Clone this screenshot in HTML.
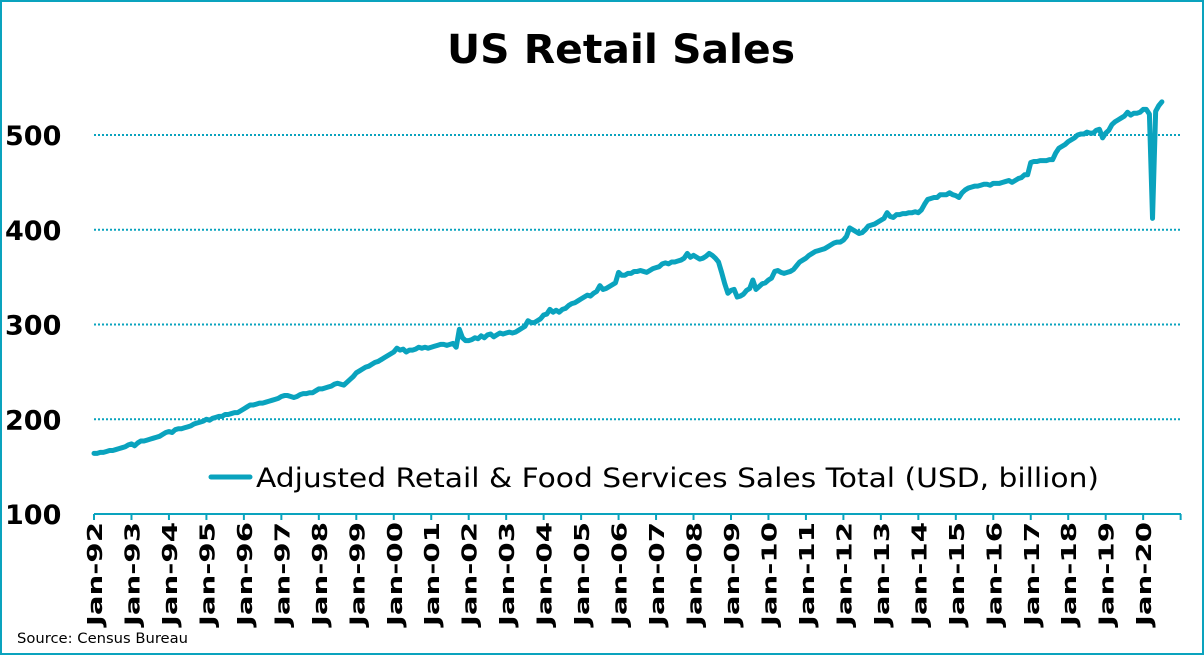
<!DOCTYPE html>
<html><head><meta charset="utf-8"><style>
html,body{margin:0;padding:0;background:#fff;}
#frame{position:relative;width:1200px;height:651px;border:2px solid #0AA3BE;overflow:hidden;}
svg{position:absolute;left:-2px;top:-2px;}
</style></head><body>
<div id="frame">
<svg id="chart" width="1204" height="655"></svg>
</div>
<script>
const years = [92,93,94,95,96,97,98,99,0,1,2,3,4,5,6,7,8,9,10,11,12,13,14,15,16,17,18,19,20];
const yTicks = [100,200,300,400,500];
const sales = [
164,164,165,165,166,167,167,168,169,170,171,173,
174,172,175,177,177,178,179,180,181,182,184,186,
187,186,189,190,190,191,192,193,195,196,197,198,
200,199,201,202,203,203,205,205,206,207,207,209,
211,213,215,215,216,217,217,218,219,220,221,222,
224,225,225,224,223,224,226,227,227,228,228,230,
232,232,233,234,235,237,238,237,236,239,242,245,
249,251,253,255,256,258,260,261,263,265,267,269,
271,275,273,274,271,273,273,274,276,275,276,275,
276,277,278,279,279,278,279,280,276,295,286,283,
283,284,286,285,288,286,289,290,287,289,291,290,
291,292,291,292,294,296,298,304,302,302,304,306,
310,311,316,313,315,313,316,317,320,322,323,325,
327,329,331,330,333,335,341,337,338,340,342,344,
355,352,352,354,354,356,356,357,356,355,357,359,
360,361,364,365,364,366,366,367,368,370,375,371,
373,371,369,370,372,375,373,370,366,355,343,333,
336,337,329,330,332,336,338,347,337,340,343,344,
347,349,356,357,355,354,355,356,358,362,366,368,
370,373,375,377,378,379,380,382,384,386,387,387,
389,393,402,400,398,396,397,400,404,405,406,408,
410,412,418,414,413,416,416,417,417,418,418,419,
418,421,427,432,433,434,434,437,437,437,439,437,
436,434,439,442,444,445,446,446,447,448,448,447,
449,449,449,450,451,452,450,452,454,455,458,458,
471,472,472,473,473,473,474,474,481,486,488,490,
493,495,497,500,501,501,503,502,502,505,506,497,
502,505,511,514,516,518,520,524,521,523,523,524,
527,527,522,412,525,531,535];

const NS='http://www.w3.org/2000/svg';
const svg=document.getElementById('chart');
const X0=94, PX_YEAR=37.47, Y100=514, PX_UNIT=0.9475, XEND=1181;
const xMonth=i=>X0+i*PX_YEAR/12;
const yVal=v=>Y100-(v-100)*PX_UNIT;
function mk(tag,attrs){const e=document.createElementNS(NS,tag);for(const k in attrs)e.setAttribute(k,attrs[k]);svg.appendChild(e);return e;}
const COL='#0AA3BE';
const FONT='"DejaVu Sans", "Liberation Sans", sans-serif';

let t=mk('text',{x:447,y:63,'font-family':FONT,'font-weight':'bold','font-size':'40',textLength:348,lengthAdjust:'spacingAndGlyphs'});
t.textContent='US Retail Sales';



yTicks.forEach(v=>{
  const y=yVal(v);
  if(v>100){
    const g=mk('line',{x1:X0,x2:XEND,y1:y,y2:y,stroke:COL,'stroke-width':2,'stroke-dasharray':'2 2'});
    
    
  }
  const l=mk('text',{x:5,y:y+10,'font-family':FONT,'font-weight':'bold','font-size':'27'});
  l.textContent=v;
  
  
});

const ax=mk('line',{x1:X0,x2:XEND,y1:Y100,y2:Y100,stroke:COL,'stroke-width':2});


for(let i=0;i<=years.length;i++){
  const x=X0+i*PX_YEAR;
  const tk=mk('line',{x1:x,x2:x,y1:Y100,y2:Y100+6,stroke:COL,'stroke-width':2});
  
  
}
years.forEach((yr,i)=>{
  const x=X0+i*PX_YEAR+8;
  const lab='Jan-'+String(yr).padStart(2,'0');
  const tx=mk('text',{x:0,y:0,transform:`translate(${x},522) rotate(-90)`,'text-anchor':'end','font-family':FONT,'font-weight':'bold','font-size':'20',textLength:104,lengthAdjust:'spacingAndGlyphs'});
  tx.textContent=lab;
  
  
});

const d=sales.map((v,i)=>(i?'L':'M')+xMonth(i).toFixed(2)+' '+yVal(v).toFixed(2)).join(' ');
const p=mk('path',{d:d,fill:'none',stroke:COL,'stroke-width':5,'stroke-linejoin':'round','stroke-linecap':'round'});



const ll=mk('line',{x1:211,x2:250,y1:477,y2:477,stroke:COL,'stroke-width':5,'stroke-linecap':'round'});


const lt=mk('text',{x:256,y:487,'font-family':FONT,'font-size':'27',textLength:843,lengthAdjust:'spacingAndGlyphs'});
lt.textContent='Adjusted Retail & Food Services Sales Total (USD, billion)';



const src=mk('text',{x:17,y:643,'font-family':FONT,'font-size':'14',textLength:171,lengthAdjust:'spacingAndGlyphs'});
src.textContent='Source: Census Bureau';


</script>
</body></html>
